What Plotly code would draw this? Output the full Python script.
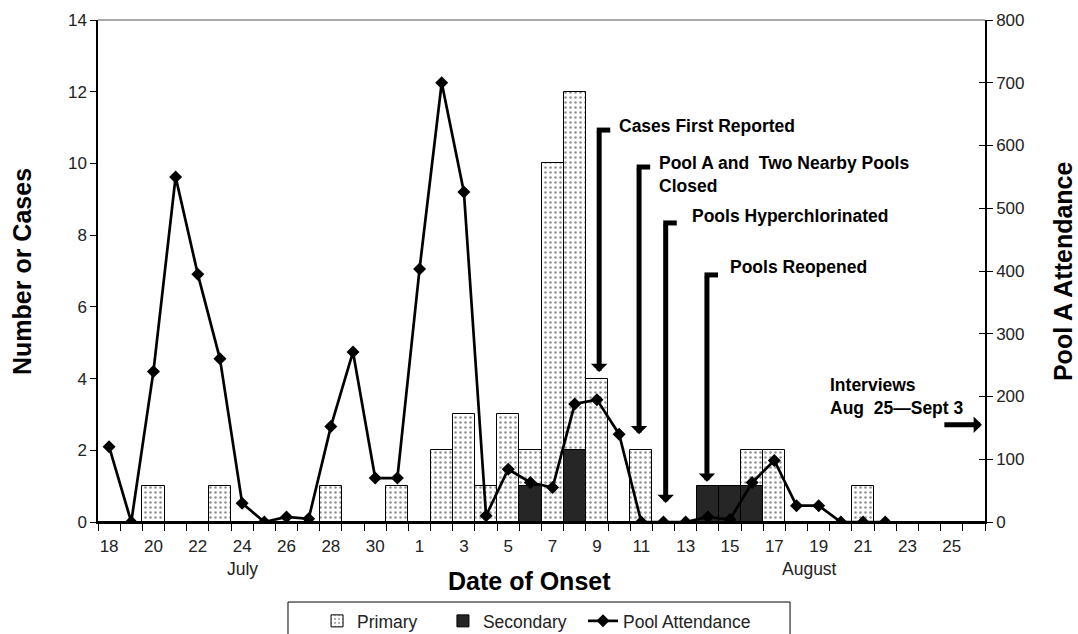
import plotly.graph_objects as go

# ---- data ----
months = ["Jul"] * 14 + ["Aug"] * 26
days = list(range(18, 32)) + list(range(1, 27))
categories = [f"{m} {d}" for m, d in zip(months, days)]
tick_text = [str(d) if i % 2 == 0 else "" for i, d in enumerate(days)]

primary = [0, 0, 1, 0, 0, 1, 0, 0, 0, 0, 1, 0, 0, 1,
           0, 2, 3, 1, 3, 2, 10, 12, 4, 0, 2, 0, 0, 0, 0, 2,
           2, 0, 0, 0, 1, 0, 0, 0, 0, 0]
secondary = [0, 0, 0, 0, 0, 0, 0, 0, 0, 0, 0, 0, 0, 0,
             0, 0, 0, 0, 0, 1, 0, 2, 0, 0, 0, 0, 0, 1, 1, 1,
             0, 0, 0, 0, 0, 0, 0, 0, 0, 0]
attendance = [120, 0, 240, 550, 395, 260, 30, 0, 8, 5, 152, 271, 70, 70,
              403, 700, 526, 10, 84, 63, 55, 188, 195, 140, 0, 0, 0, 8, 4, 63,
              98, 26, 26, 0, 0, 0, None, None, None, None]

FONT = "Arial, Liberation Sans, sans-serif"
TXT = 17.5

fig = go.Figure()
fig.add_trace(go.Bar(
    x=categories, y=primary, name="Primary", yaxis="y", legend="legend",
    marker=dict(color="white", line=dict(color="black", width=1),
                pattern=dict(shape=".", fgcolor="#222", bgcolor="white",
                             size=5, solidity=0.2)),
))
fig.add_trace(go.Bar(
    x=categories, y=secondary, name="Secondary", yaxis="y", legend="legend2",
    marker=dict(color="#262626", line=dict(color="black", width=1)),
))
fig.add_trace(go.Scatter(
    x=categories, y=attendance, name="Pool Attendance", yaxis="y2", legend="legend3",
    mode="lines+markers", line=dict(color="black", width=2.7),
    marker=dict(symbol="diamond", size=10, color="black"),
))
# helper trace so the right axis gets crossing ticks
fig.add_trace(go.Scatter(x=[categories[0]], y=[None], yaxis="y3", showlegend=False,
                         hoverinfo="skip"))

leg_common = dict(orientation="h", xanchor="left", yref="container", xref="container",
                  y=0.0489, yanchor="top", borderwidth=0,
                  font=dict(size=TXT, color="#222"), bgcolor="rgba(0,0,0,0)")

fig.update_layout(
    width=1078, height=634,
    margin=dict(l=98, r=93, t=20, b=112, autoexpand=False),
    plot_bgcolor="white", paper_bgcolor="white",
    barmode="overlay", bargap=0,
    font=dict(family=FONT, size=TXT, color="#222"),
    showlegend=True,
    legend=dict(x=0.2941, **leg_common),
    legend2=dict(x=0.4109, **leg_common),
    legend3=dict(x=0.5408, **leg_common),
    xaxis=dict(type="category", range=[-0.5, 39.5], tickson="boundaries",
               tickvals=categories, ticktext=tick_text, tickangle=0, automargin=False,
               ticks="outside", ticklen=7, ticklabelstandoff=8,
               tickcolor="black", showline=True, linecolor="black", linewidth=1.5,
               showgrid=False, zeroline=False, tickfont=dict(size=17)),
    yaxis=dict(range=[0, 14], dtick=2, ticks="outside", ticklen=6, tickcolor="black",
               showline=True, linecolor="black", linewidth=1.5, showgrid=False,
               zeroline=False, tickfont=dict(size=17), automargin=False),
    yaxis2=dict(range=[0, 800], dtick=100, overlaying="y", side="right",
                ticks="outside", ticklen=6, tickcolor="black", showline=True,
                linecolor="black", linewidth=1.5, showgrid=False, zeroline=False,
                tickfont=dict(size=17), automargin=False),
    yaxis3=dict(range=[0, 800], dtick=100, overlaying="y", side="right",
                ticks="inside", ticklen=6, tickcolor="black", showline=False,
                showticklabels=False, showgrid=False, zeroline=False, automargin=False),
)

# top border line (gray)
fig.add_shape(type="line", xref="paper", yref="paper", x0=0, x1=1, y0=1, y1=1,
              line=dict(color="#aaaaaa", width=2))
# legend frame
fig.add_shape(type="rect", xref="paper", yref="paper", x0=0.2142, x1=0.7802,
              y0=-0.26, y1=-0.1594, line=dict(color="black", width=1))

ann = []
# axis titles
ann.append(dict(text="<b>Number or Cases</b>", xref="paper", yref="paper",
                x=-0.0857, y=0.5, xanchor="center", yanchor="middle",
                textangle=-90, showarrow=False, font=dict(size=25, color="black")))
ann.append(dict(text="<b>Pool A Attendance</b>", xref="paper", yref="paper",
                x=1.088, y=0.5, xanchor="center", yanchor="middle",
                textangle=-90, showarrow=False, font=dict(size=25, color="black")))
ann.append(dict(text="<b>Date of Onset</b>", xref="paper", yref="paper",
                x=0.487, y=-0.1175, xanchor="center", yanchor="middle",
                showarrow=False, font=dict(size=25, color="black")))
ann.append(dict(text="July", xref="x", yref="paper", x=6, y=-0.0936,
                xanchor="center", yanchor="middle",
                showarrow=False, font=dict(size=TXT, color="#222")))
ann.append(dict(text="August", xref="x", yref="paper", x=31.6, y=-0.0936,
                xanchor="center", yanchor="middle",
                showarrow=False, font=dict(size=TXT, color="#222")))

# event arrows (tip x, tip y, top y) in left-axis units
events = [
    ("Cases First Reported", 22.1, 4.18, 10.93, 22.9, 11.04),
    ("Pool A and  Two Nearby Pools<br>Closed", 23.9, 2.45, 9.90, 24.7, 9.70),
    ("Pools Hyperchlorinated", 25.1, 0.53, 8.34, 26.2, 8.53),
    ("Pools Reopened", 26.96, 1.12, 6.89, 27.9, 7.11),
]
for text, ex, tipy, topy, tx, ty in events:
    ann.append(dict(x=ex, y=tipy, ax=ex, ay=topy, xref="x", yref="y",
                    axref="x", ayref="y", text="", showarrow=True,
                    arrowhead=1, arrowwidth=5, arrowsize=0.55, arrowcolor="black"))
    fig.add_shape(type="line", xref="x", yref="y", x0=ex - 0.11, x1=ex + 0.5,
                  y0=topy, y1=topy, line=dict(color="black", width=5))
    ann.append(dict(x=tx, y=ty, xref="x", yref="y", text=f"<b>{text}</b>",
                    showarrow=False, xanchor="left", yanchor="middle", align="left",
                    font=dict(size=TXT, color="black")))

ann.append(dict(x=32.4, y=3.51, xref="x", yref="y",
                text="<b>Interviews<br>Aug  25\u2014Sept 3</b>", showarrow=False,
                xanchor="left", yanchor="middle", align="left",
                font=dict(size=TXT, color="black")))
ann.append(dict(x=39.36, y=2.71, ax=37.6, ay=2.71, xref="x", yref="y",
                axref="x", ayref="y", text="", showarrow=True,
                arrowhead=1, arrowwidth=5, arrowsize=0.55, arrowcolor="black"))

fig.update_layout(annotations=ann)
fig.write_html("out.html", config={"displayModeBar": False},
               post_script="document.body.style.margin='0px';"
                           "document.body.style.overflow='hidden';")
